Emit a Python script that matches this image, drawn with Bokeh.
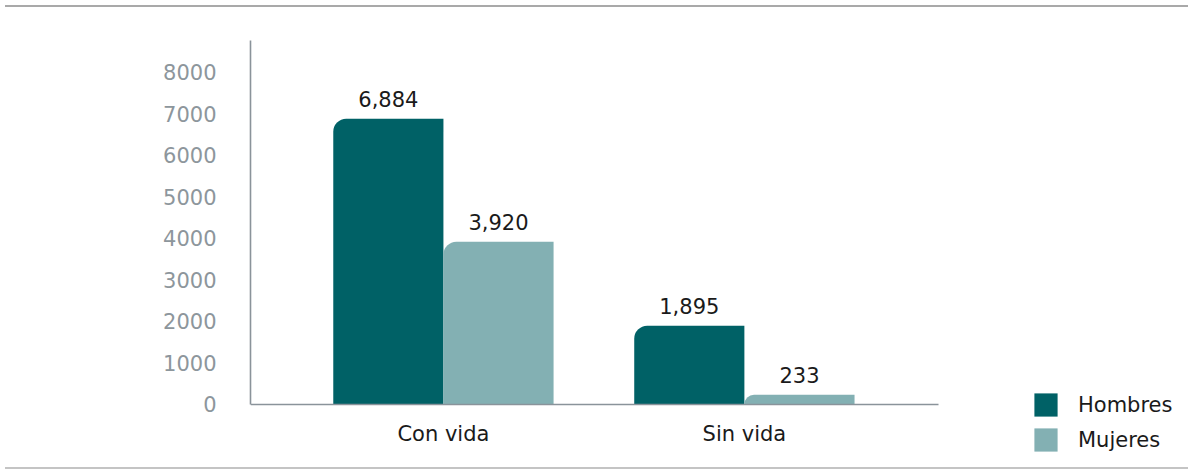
from bokeh.plotting import figure
from bokeh.models import Range1d, FixedTicker, ColumnDataSource, Legend, LegendItem, Div
from bokeh.transform import dodge
from bokeh.layouts import column
from bokeh.core.properties import value
from bokeh.embed import file_html
from bokeh.resources import INLINE

categories = ["Con vida", "Sin vida"]
series = ["Hombres", "Mujeres"]
hombres = [6884, 1895]
mujeres = [3920, 233]
y_ticks = [0, 1000, 2000, 3000, 4000, 5000, 6000, 7000, 8000]

FONT = "DejaVu Sans"
FS = "21px"
C_H = "#006166"
C_M = "#83b0b3"

xpos = [i + 0.5 for i in range(len(categories))]
src = ColumnDataSource(dict(
    x=xpos,
    h=hombres,
    m=mujeres,
    h_lbl=[f"{v:,}" for v in hombres],
    m_lbl=[f"{v:,}" for v in mujeres],
))

p = figure(width=1183, height=450, x_range=Range1d(-0.141, 2.959), y_range=Range1d(-1399, 8770),
           output_backend="svg", toolbar_location=None,
           min_border_left=250, min_border_right=0, min_border_top=28, min_border_bottom=0)
p.outline_line_color = None
p.xgrid.grid_line_color = None
p.ygrid.grid_line_color = None

rh = p.vbar(x=dodge("x", -0.183), top="h", width=0.366, source=src,
            fill_color=C_H, line_color=None, border_radius=(13, 0, 0, 0))
rm = p.vbar(x=dodge("x", 0.183), top="m", width=0.366, source=src,
            fill_color=C_M, line_color=None, border_radius=(13, 0, 0, 0))

for off, col, lbl in [(-0.183, "h", "h_lbl"), (0.183, "m", "m_lbl")]:
    p.text(x=dodge("x", off), y=col, text=lbl, source=src,
           text_align="center", text_baseline="bottom", y_offset=-12,
           text_font=value(FONT), text_font_size=FS, text_color="#1a1a1a")

p.yaxis.ticker = FixedTicker(ticks=y_ticks)
p.yaxis.bounds = (0, 8770)
p.xaxis.ticker = FixedTicker(ticks=xpos)
p.xaxis.major_label_overrides = {x: c for x, c in zip(xpos, categories)}
p.xaxis.fixed_location = 0
p.xaxis.bounds = (-0.141, 2.145)
for ax in (p.xaxis[0], p.yaxis[0]):
    ax.axis_line_color = "#8a939a"
    ax.axis_line_width = 1.6
    ax.major_tick_line_color = None
    ax.minor_tick_line_color = None
    ax.major_label_text_font = FONT
    ax.major_label_text_font_size = FS
p.yaxis.major_label_standoff = 28
p.yaxis.major_label_text_color = "#8d969c"
p.xaxis.major_label_text_color = "#1a1a1a"
p.xaxis.major_label_standoff = 12

legend = Legend(items=[LegendItem(label=series[0], renderers=[rh]),
                       LegendItem(label=series[1], renderers=[rm])],
                location=(781, 8), orientation="vertical",
                glyph_width=29, glyph_height=29, label_height=29, spacing=6,
                label_standoff=18, padding=0, margin=0,
                border_line_color=None, background_fill_alpha=0,
                label_text_font=FONT, label_text_font_size=FS, label_text_color="#1a1a1a")
p.add_layout(legend, "center")

top_line = Div(width=1183, height=2, styles={"background-color": "#a9a9a9"})
bot_line = Div(width=1183, height=2, styles={"background-color": "#c4c4c4"})
layout = column(top_line, p, bot_line, spacing=0)

open("out.html", "w").write(file_html(layout, INLINE))
